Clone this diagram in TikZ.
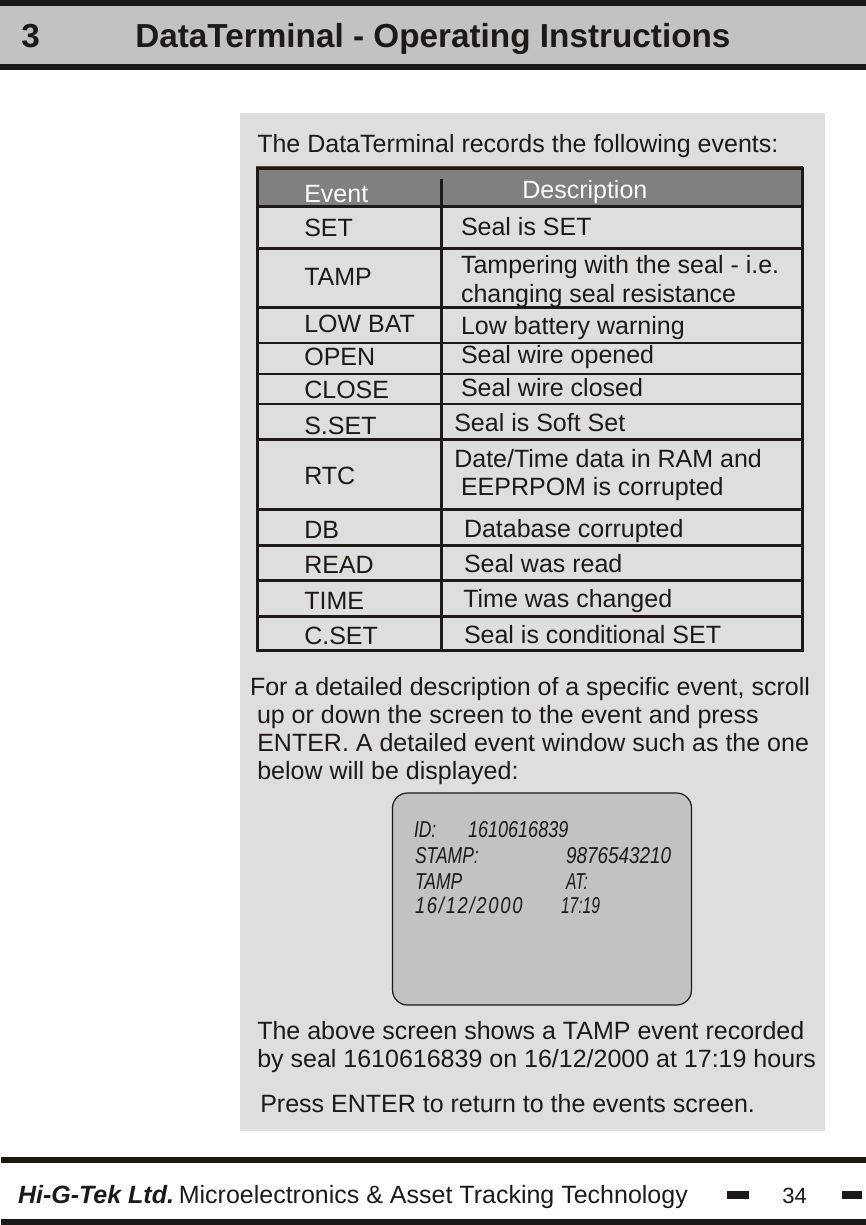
\documentclass[tikz,border=0pt]{standalone}
\usepackage{fontspec}
\setmainfont{Liberation Sans}
\newfontfamily\lcdA[FakeStretch=0.76,Ligatures=NoCommon]{Liberation Sans Italic}
\newfontfamily\lcdD[FakeStretch=0.785,Ligatures=NoCommon]{Liberation Sans Italic}
\newfontfamily\lcdE[FakeStretch=0.823,Ligatures=NoCommon]{Liberation Sans Italic}
\newfontfamily\lcdW[FakeStretch=0.8,LetterSpace=7.5,Ligatures=NoCommon]{Liberation Sans Italic}
\newfontfamily\lcdN[FakeStretch=0.68,Ligatures=NoCommon]{Liberation Sans Italic}
\definecolor{ink}{RGB}{30,25,23}
\definecolor{panel}{RGB}{222,222,222}
\definecolor{band}{RGB}{194,194,194}
\definecolor{headfill}{RGB}{128,128,128}
\tikzset{
 x=1pt,y=-1pt,
 tx/.style={anchor=base west,inner sep=0pt,outer sep=0pt,xshift=-0.7pt,text=ink,font=\fontsize{25}{25}\selectfont},
 lcd/.style={anchor=base west,inner sep=0pt,outer sep=0pt,text=ink,font=\lcdA\fontsize{23}{23}\selectfont},
 lcdd/.style={lcd,font=\lcdD\fontsize{23}{23}\selectfont},
 lcde/.style={lcd,font=\lcdE\fontsize{23}{23}\selectfont},
 lcdw/.style={lcd,font=\lcdW\fontsize{23}{23}\selectfont},
 lcdn/.style={lcd,font=\lcdN\fontsize{23}{23}\selectfont},
 rule/.style={line width=3pt,draw=ink},
}
\begin{document}
\begin{tikzpicture}
\useasboundingbox (0,0) rectangle (866,1225);
% header
\fill[band] (0,3) rectangle (866,67);
\fill[ink] (0,0) rectangle (866,6);
\fill[ink] (0,64) rectangle (866,70);
\node[tx,font=\bfseries\fontsize{33.3}{33}\selectfont] (num) at (22,47.5) {3};
\node[tx,font=\bfseries\fontsize{33.3}{33}\selectfont] (title) at (136,47.5) {DataTerminal - Operating Instructions};
% panel
\fill[panel] (240,113) rectangle (825,1131);
\node[tx] (intro) at (258,153) {The DataTerminal records the following events:};
% table
\fill[headfill] (257,169) rectangle (802,206);
\draw[line width=2pt,draw=ink!80!white] (256,167.5) -- (803,167.5);
\draw[rule] (257,169) rectangle (802,650);
\draw[rule] (441,179) -- (441,650);
\foreach \y/\w in {206/3,248/3,307/3,342.5/2,373.5/2,404/2.5,439.5/3,509.5/3,545.5/3,580.5/3,616/3}
  \draw[draw=ink,line width=\w pt] (257,\y) -- (802,\y);
\node[tx,text=white] (h1) at (305,202) {Event};
\node[tx,text=white] (h2) at (523,198) {Description};
\node[tx] (e1) at (305,236.5) {SET};
\node[tx] (d1) at (461.7,235.5) {Seal is SET};
\node[tx] (e2) at (305,285.5) {TAMP};
\node[tx] (d2a) at (461.7,273) {Tampering with the seal - i.e.};
\node[tx] (d2b) at (461.7,302) {changing seal resistance};
\node[tx] (e3) at (305,332) {LOW BAT};
\node[tx] (d3) at (461.7,334) {Low battery warning};
\node[tx] (e4) at (305,365) {OPEN};
\node[tx] (d4) at (461.7,363) {Seal wire opened};
\node[tx] (e5) at (305,398) {CLOSE};
\node[tx] (d5) at (461.7,396) {Seal wire closed};
\node[tx] (e6) at (305,434) {S.SET};
\node[tx] (d6) at (455,431) {Seal is Soft Set};
\node[tx] (e7) at (305,484.5) {RTC};
\node[tx] (d7a) at (455,467) {Date/Time data in RAM and};
\node[tx] (d7b) at (461.7,495) {EEPRPOM is corrupted};
\node[tx] (e8) at (305,538) {DB};
\node[tx] (d8) at (464.7,537) {Database corrupted};
\node[tx] (e9) at (305,573) {READ};
\node[tx] (d9) at (464.7,572) {Seal was read};
\node[tx] (e10) at (305,609) {TIME};
\node[tx] (d10) at (464,607) {Time was changed};
\node[tx] (e11) at (305,644) {C.SET};
\node[tx] (d11) at (464.7,643) {Seal is conditional SET};
% paragraph
\node[tx] (p1) at (250.7,695) {For a detailed description of a specific event, scroll};
\node[tx] (p2) at (257.7,723) {up or down the screen to the event and press};
\node[tx] (p3) at (258,751) {ENTER. A detailed event window such as the one};
\node[tx] (p4) at (258,779.5) {below will be displayed:};
% screen
\draw[fill=band,draw=ink,line width=1.2pt,rounded corners=15pt] (392.5,793) rectangle (691.5,1005);
\node[lcd] (l1a) at (414,837) {ID:};
\node[lcdd] (l1b) at (468,837) {1610616839};
\node[lcd] (l2a) at (415,863) {STAMP:};
\node[lcde] (l2b) at (566,863) {9876543210};
\node[lcd] (l3a) at (415,889) {TAMP};
\node[lcdn] (l3b) at (566,889) {AT:};
\node[lcdw] (l4a) at (415,913) {16/12/2000};
\node[lcdn] (l4b) at (561,913) {17:19};
% below
\node[tx] (q1) at (258,1039.5) {The above screen shows a TAMP event recorded};
\node[tx] (q2) at (258,1067.5) {by seal 1610616839 on 16/12/2000 at 17:19 hours};
\node[tx] (q3) at (261,1112.5) {Press ENTER to return to the events screen.};
% footer
\fill[ink] (1,1157) rectangle (866,1163);
\fill[ink] (1,1219) rectangle (866,1225);
\node[tx,font=\bfseries\itshape\fontsize{25}{25}\selectfont] (brand) at (18.7,1203.5) {Hi-G-Tek Ltd.};
\node[tx,font=\fontsize{25}{25}\selectfont] (foot) at (179.5,1203.5) {Microelectronics \& Asset Tracking Technology};
\fill[ink] (727,1191) rectangle (749,1199);
\node[tx,font=\fontsize{22}{22}\selectfont] (page) at (783,1203) {34};
\fill[ink] (842,1191) rectangle (862,1199);
\end{tikzpicture}
\end{document}
